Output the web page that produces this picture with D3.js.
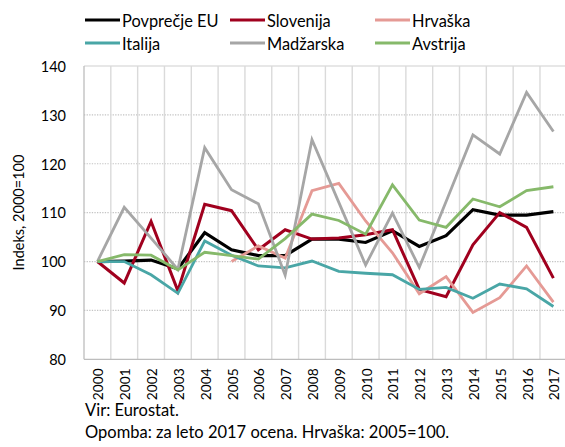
<!DOCTYPE html>
<html>
<head>
<meta charset="utf-8">
<script src="https://cdn.jsdelivr.net/npm/d3@7"></script>
<style>
  html, body { margin: 0; padding: 0; background: #fff; }
  svg { display: block; font-family: Lato, "Open Sans", sans-serif; }
</style>
</head>
<body>
<svg id="chart" width="565" height="447"></svg>
<script>
// Indeks, 2000=100 (Hrvaška: 2005=100)
const years = ["2000","2001","2002","2003","2004","2005","2006","2007","2008",
               "2009","2010","2011","2012","2013","2014","2015","2016","2017"];
const yTicks = [80, 90, 100, 110, 120, 130, 140];

const povprecjeEU = [100, 100.1, 100.3, 98.5, 105.9, 102.4, 101.2, 101.2, 104.6,
                     104.6, 103.9, 106.3, 103.1, 105.3, 110.6, 109.5, 109.5, 110.2];
const slovenija   = [100, 95.6, 108.2, 94.0, 111.7, 110.4, 102.4, 106.5, 104.6,
                     104.8, 105.5, 106.5, 94.3, 92.8, 103.4, 110.0, 107.0, 96.6];
const hrvaska     = [null, null, null, null, null, 100, 103.2, 100.7, 114.5,
                     116.0, 108.3, 101.8, 93.4, 96.9, 89.6, 92.6, 99.1, 91.7];
const italija     = [100, 100, 97.3, 93.5, 104.2, 101.3, 99.1, 98.7, 100.1,
                     98.0, 97.6, 97.3, 94.3, 94.7, 92.5, 95.4, 94.4, 90.8];
const madzarska   = [100, 111.1, 104.8, 98.4, 123.3, 114.7, 111.8, 97.2, 124.9,
                     112.1, 99.3, 109.9, 98.8, 112.3, 125.9, 122.0, 134.6, 126.6];
const avstrija    = [100, 101.4, 101.3, 98.3, 101.9, 101.2, 100.5, 104.7, 109.7,
                     108.4, 105.6, 115.7, 108.5, 107.0, 112.8, 111.2, 114.5, 115.3];

const series = [
  { name: "Povprečje EU", values: povprecjeEU, color: "#000000", width: 3.2 },
  { name: "Slovenija",    values: slovenija,   color: "#a0001e", width: 3 },
  { name: "Hrvaška",      values: hrvaska,     color: "#e59a95", width: 2.8 },
  { name: "Italija",      values: italija,     color: "#49a6a6", width: 2.8 },
  { name: "Madžarska",    values: madzarska,   color: "#a6a6a6", width: 2.8 },
  { name: "Avstrija",     values: avstrija,    color: "#86b96a", width: 2.8 }
];

const svg = d3.select("#chart");
const plot = { left: 84, right: 566.8, top: 66, bottom: 359.3 };

const x = d3.scaleBand().domain(years).range([plot.left, plot.right]);
const y = d3.scaleLinear().domain([80, 140]).range([plot.bottom, plot.top]);
const cx = d => x(d) + x.bandwidth() / 2;

// horizontal dotted gridlines
svg.append("g").selectAll("line")
  .data(yTicks.filter(t => t > 80 && t < 140))
  .join("line")
  .attr("x1", plot.left).attr("x2", plot.right)
  .attr("y1", d => y(d)).attr("y2", d => y(d))
  .attr("stroke", "#c4c4c4").attr("stroke-width", 1.2)
  .attr("stroke-dasharray", "1.3,1.3");

// top border
svg.append("line")
  .attr("x1", plot.left).attr("x2", plot.right)
  .attr("y1", y(140)).attr("y2", y(140))
  .attr("stroke", "#cfcfcf").attr("stroke-width", 1.2);

// vertical gridlines between categories
svg.append("g").selectAll("line")
  .data(years.slice(1))
  .join("line")
  .attr("x1", d => x(d)).attr("x2", d => x(d))
  .attr("y1", plot.top).attr("y2", plot.bottom)
  .attr("stroke", "#dadada").attr("stroke-width", 1.4);

// axis lines
svg.append("line")
  .attr("x1", plot.left).attr("x2", plot.left)
  .attr("y1", plot.top).attr("y2", plot.bottom)
  .attr("stroke", "#bdbdbd").attr("stroke-width", 1.3);
svg.append("line")
  .attr("x1", plot.left).attr("x2", plot.right)
  .attr("y1", plot.bottom).attr("y2", plot.bottom)
  .attr("stroke", "#bdbdbd").attr("stroke-width", 1.3);

// y tick labels
const yAxis = d3.axisLeft(y).tickValues(yTicks).tickSize(0).tickPadding(0);
const gy = svg.append("g").attr("transform", `translate(66,0)`).call(yAxis);
gy.select(".domain").remove();
gy.selectAll("text")
  .attr("font-size", 14.5).attr("fill", "#000")
  .attr("font-family", "Lato, sans-serif")
  .attr("dy", "0.36em");

// x tick labels (rotated, reading upwards)
const xAxis = d3.axisBottom(x).tickSize(0).tickPadding(0);
const gx = svg.append("g").attr("transform", `translate(0,${plot.bottom})`).call(xAxis);
gx.select(".domain").remove();
gx.selectAll("text")
  .attr("font-size", 13.8).attr("fill", "#000")
  .attr("font-family", "Lato, sans-serif")
  .attr("text-anchor", "end")
  .attr("dominant-baseline", "central")
  .attr("transform", "translate(0.5,9) rotate(-90)")
  .attr("x", 0).attr("y", 0).attr("dy", null);

// y axis title
svg.append("text")
  .attr("transform", "translate(18.5,212.5) rotate(-90)")
  .attr("text-anchor", "middle")
  .attr("dominant-baseline", "central")
  .attr("font-size", 14.5)
  .text("Indeks, 2000=100");

// series lines
const line = d3.line()
  .defined(d => d.v != null)
  .x(d => cx(d.year))
  .y(d => y(d.v));

svg.append("g").selectAll("path")
  .data(series)
  .join("path")
  .attr("fill", "none")
  .attr("stroke", s => s.color)
  .attr("stroke-width", s => s.width)
  .attr("stroke-linejoin", "miter")
  .attr("d", s => line(years.map((yr, i) => ({ year: yr, v: s.values[i] }))));

// legend (3 columns x 2 rows)
const legendCols = [85, 230, 375];
const legendRows = [20, 43];
const lg = svg.append("g").selectAll("g")
  .data(series)
  .join("g")
  .attr("transform", (s, i) => `translate(${legendCols[i % 3]},${legendRows[Math.floor(i / 3)]})`);
lg.append("line")
  .attr("x1", 0).attr("x2", 35)
  .attr("stroke", s => s.color).attr("stroke-width", 3);
lg.append("text")
  .attr("x", 37)
  .attr("dominant-baseline", "central")
  .attr("font-size", 16.4)
  .text(s => s.name);

// source and note
svg.append("text").attr("x", 85).attr("y", 415.5).attr("font-size", 16.5)
  .text("Vir: Eurostat.");
svg.append("text").attr("x", 85).attr("y", 438).attr("font-size", 16.5)
  .text("Opomba: za leto 2017 ocena. Hrvaška: 2005=100.");
</script>
</body>
</html>
